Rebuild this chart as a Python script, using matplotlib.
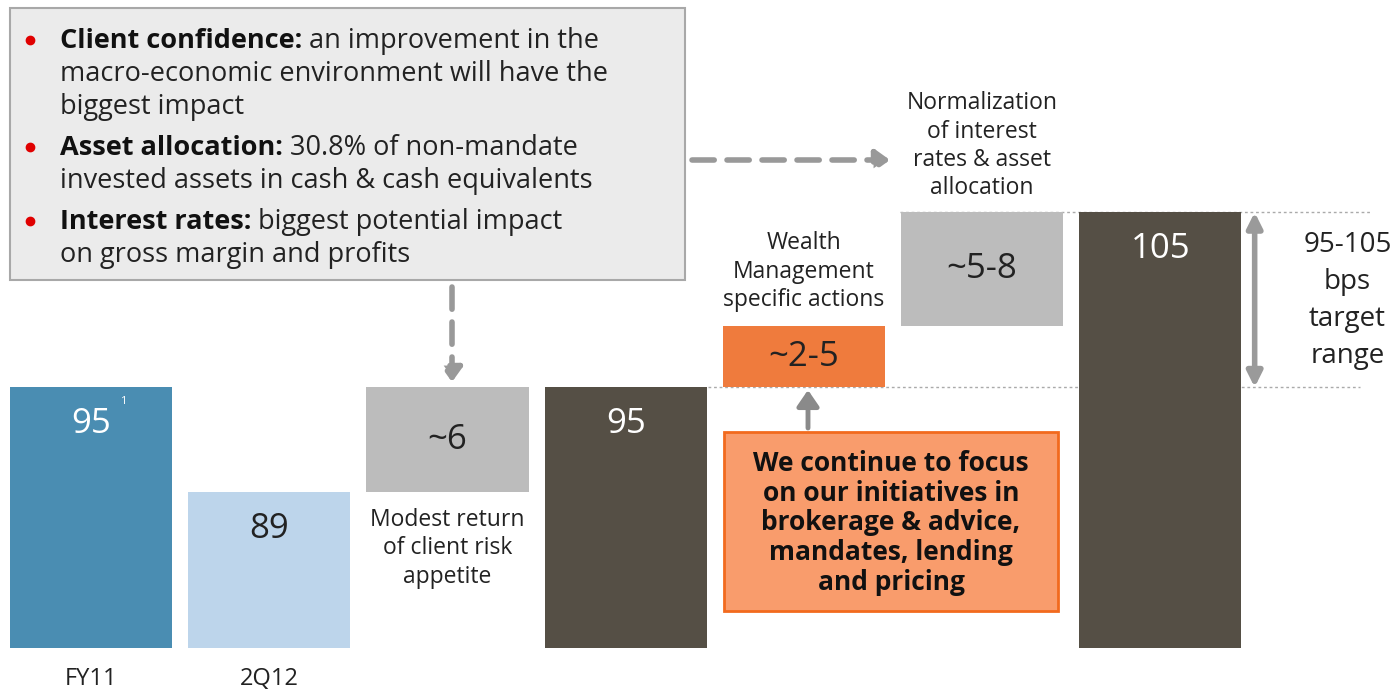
import matplotlib
matplotlib.use('Agg')
import matplotlib.pyplot as plt
from matplotlib.patches import Rectangle, FancyArrowPatch
from matplotlib.lines import Line2D

plt.rcParams['font.family'] = ['Open Sans', 'DejaVu Sans']

# data (bps)
categories = ['FY11', '2Q12', '', '', '', '', '']
bar_labels = ['95', '89', '~6', '95', '~2-5', '~5-8', '105']
bar_top = [95, 89, 95, 95, 98.5, 105, 105]
bar_bottom = [None, None, 89, None, 95, 98.5, None]   # None = bar from the floor
bar_colors = ['#4a8db2', '#bdd5eb', '#bcbcbc', '#554f45', '#ef7b3d', '#bcbcbc', '#554f45']
label_colors = ['white', '#222222', '#222222', 'white', '#222222', '#222222', 'white']
floating_notes = {2: 'Modest return\nof client risk\nappetite',
                  4: 'Wealth\nManagement\nspecific actions',
                  5: 'Normalization\nof interest\nrates & asset\nallocation'}
target_text = '95-105\nbps\ntarget\nrange'
bullets = [('Client confidence:', ' an improvement in the', ['macro-economic environment will have the', 'biggest impact']),
           ('Asset allocation:', ' 30.8% of non-mandate', ['invested assets in cash & cash equivalents']),
           ('Interest rates:', ' biggest potential impact', ['on gross margin and profits'])]
focus_text = 'We continue to focus\non our initiatives in\nbrokerage & advice,\nmandates, lending\nand pricing'

W, H = 1399, 689
FLOOR = 80.1
fig = plt.figure(figsize=(W / 100, H / 100), dpi=100)
ax = fig.add_axes([0, 0, 1, 1])
ax.set_xlim(-0.511, 7.34)
ax.set_ylim(77.76, 117.13)
ax.axis('off')

def fx(px):
    return px / W

def fy(py):
    return 1 - py / H

xs = list(range(len(bar_top)))
bottoms = [FLOOR if b is None else b for b in bar_bottom]
heights = [t - b for t, b in zip(bar_top, bottoms)]
ax.bar(xs, heights, bottom=bottoms, width=0.91, color=bar_colors, zorder=2)

for i in xs:
    if bar_bottom[i] is None:
        yl = bar_top[i] - 2.1
    else:
        yl = (bar_top[i] + bottoms[i]) / 2
    ax.text(i, yl, bar_labels[i], ha='center', va='center', fontsize=25,
            color=label_colors[i], zorder=3)
    if categories[i]:
        ax.text(i, FLOOR - 1.75, categories[i], ha='center', va='center', fontsize=17, color='#222222')
ax.text(0.18, 94.2, '1', ha='center', va='center', fontsize=8, color='white', zorder=3)

# notes near the floating bars
ax.text(2, 85.8, floating_notes[2], ha='center', va='center', fontsize=16.5,
        color='#222222', linespacing=1.24)
ax.text(4, 101.6, floating_notes[4], ha='center', va='center', fontsize=16.5,
        color='#222222', linespacing=1.24)
ax.text(5, 108.8, floating_notes[5], ha='center', va='center', fontsize=16.5,
        color='#222222', linespacing=1.24)

# dotted guides at 95 and 105
ax.plot([3.46, 7.12], [95, 95], ls=(0, (2, 2)), color='#aaaaaa', lw=1, zorder=1)
ax.plot([4.54, 7.18], [105, 105], ls=(0, (2, 2)), color='#aaaaaa', lw=1, zorder=1)

# target range arrow
ax.annotate('', xy=(6.53, 105), xytext=(6.53, 95),
            arrowprops=dict(arrowstyle='<|-|>,head_length=0.9,head_width=0.45', color='#9a9a9a', lw=4,
                            shrinkA=0, shrinkB=0))
ax.text(7.05, 99.95, target_text, ha='center', va='center', fontsize=20, color='#222222', linespacing=1.42)

# grey text box
fig.patches.append(Rectangle((fx(10), fy(280)), fx(675), 272 / H, transform=fig.transFigure,
                             facecolor='#ebebeb', edgecolor='#a8a8a8', lw=1.5, zorder=0))
renderer = fig.canvas.get_renderer()
y = 41
for bold, rest, more in bullets:
    fig.add_artist(Line2D([fx(30)], [fy(y - 1)], marker='o', ms=6, color='#e00000',
                          transform=fig.transFigure))
    t = fig.text(fx(60), fy(y + 7), bold, fontsize=19.5, fontweight='bold', color='#111111', va='baseline')
    x1 = t.get_window_extent(renderer).x1
    fig.text(x1 / W, fy(y + 7), rest, fontsize=19.5, color='#222222', va='baseline')
    for line in more:
        y += 33
        fig.text(fx(60), fy(y + 7), line, fontsize=19.5, color='#222222', va='baseline')
    y += 41

# dashed arrows from the box
dash = dict(arrowstyle='-|>,head_length=0.7,head_width=0.5', color='#999999', lw=4,
            linestyle=(0, (4, 2.3)), shrinkA=0, shrinkB=0)
fig.patches.append(FancyArrowPatch((fx(452), fy(287)), (fx(452), fy(382)), transform=fig.transFigure,
                                   mutation_scale=12, **dash))
fig.patches.append(FancyArrowPatch((fx(692), fy(160)), (fx(890), fy(160)), transform=fig.transFigure,
                                   mutation_scale=12, **dash))

# orange focus box and arrow up
fig.patches.append(Rectangle((fx(724), fy(611)), fx(334), 179 / H, transform=fig.transFigure,
                             facecolor='#f99c6c', edgecolor='#f26a1e', lw=2, zorder=1))
fig.text(fx(891), fy(523), focus_text, ha='center', va='center', fontsize=19, fontweight='bold',
         color='#111111', linespacing=1.12)
fig.patches.append(FancyArrowPatch((fx(808), fy(428)), (fx(808), fy(390)), transform=fig.transFigure,
                                   arrowstyle='-|>,head_length=0.8,head_width=0.55', color='#8a8a8a',
                                   lw=3.5, mutation_scale=12, shrinkA=0, shrinkB=0))

plt.savefig('out.png', dpi=100)
